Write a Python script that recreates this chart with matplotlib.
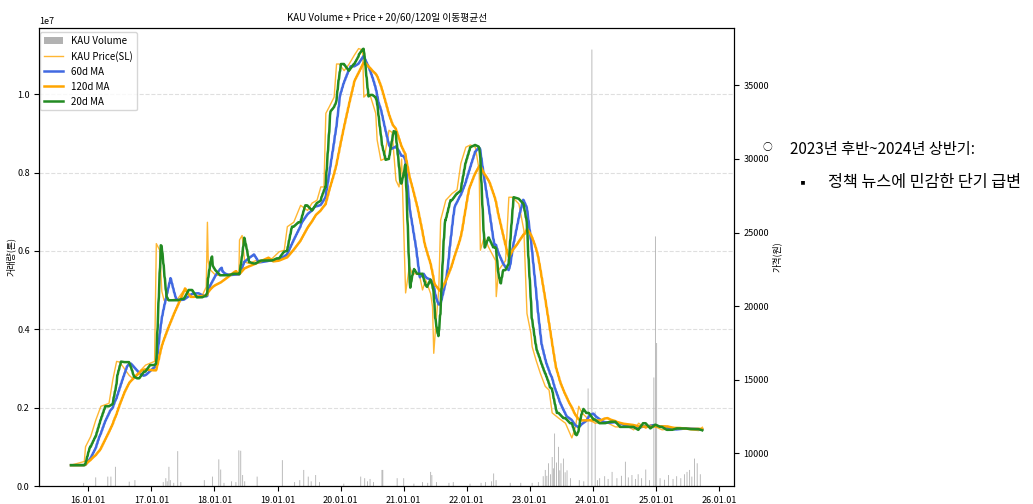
import pandas as pd
import matplotlib
matplotlib.use("Agg")
import matplotlib.pyplot as plt
import matplotlib.dates as mdates

plt.rcParams['font.family'] = ['Noto Sans CJK KR', 'DejaVu Sans']
plt.rcParams['axes.unicode_minus'] = False

# KAU closing price (원)
price_dates = [
    '2015-09-23', '2015-12-09', '2015-12-16', '2016-01-15', '2016-02-13', '2016-03-14',
    '2016-04-30', '2016-05-22', '2016-06-13', '2016-07-01', '2016-08-25', '2016-09-13',
    '2016-10-23', '2016-11-28', '2017-01-19', '2017-01-29', '2017-02-18', '2017-03-02',
    '2017-03-15', '2017-04-12', '2017-06-02', '2017-07-09', '2017-08-25', '2017-10-23',
    '2017-11-14', '2017-11-21', '2017-11-26', '2017-12-09', '2018-01-08', '2018-03-07',
    '2018-03-25', '2018-05-22', '2018-05-26', '2018-06-10', '2018-06-25', '2018-07-20',
    '2018-08-29', '2018-10-26', '2018-12-02', '2019-01-11', '2019-02-09', '2019-02-27',
    '2019-04-05', '2019-05-15', '2019-06-24', '2019-07-20', '2019-08-18', '2019-09-09',
    '2019-09-27', '2019-10-08', '2019-10-26', '2019-11-25', '2019-12-09', '2019-12-24',
    '2020-01-22', '2020-02-20', '2020-03-21', '2020-04-15', '2020-05-08', '2020-05-15',
    '2020-06-06', '2020-06-24', '2020-07-23', '2020-07-31', '2020-08-22', '2020-09-09',
    '2020-10-08', '2020-10-26', '2020-11-17', '2020-12-05', '2020-12-20', '2021-01-12',
    '2021-02-03', '2021-02-20', '2021-04-01', '2021-04-20', '2021-05-08', '2021-06-06',
    '2021-06-17', '2021-06-24', '2021-07-05', '2021-07-23', '2021-08-03', '2021-09-02',
    '2021-10-08', '2021-11-06', '2021-11-28', '2021-12-27', '2022-01-22', '2022-02-20',
    '2022-03-14', '2022-03-21', '2022-04-12', '2022-05-08', '2022-06-17', '2022-06-21',
    '2022-07-05', '2022-08-14', '2022-09-02', '2022-09-20', '2022-10-01', '2022-10-30',
    '2022-11-28', '2022-12-16', '2023-01-08', '2023-01-15', '2023-02-06', '2023-03-03',
    '2023-04-01', '2023-04-23', '2023-05-11', '2023-06-17', '2023-07-27', '2023-09-02',
    '2023-09-23', '2023-10-12', '2023-10-30', '2023-12-09', '2024-01-15', '2024-03-14',
    '2024-05-11', '2024-07-27', '2024-08-25', '2024-09-23', '2024-11-03', '2024-12-02',
    '2024-12-31', '2025-02-06', '2025-04-05', '2025-06-21', '2025-09-05', '2025-09-27',
]
price_values = [
    9200, 9450, 10450, 11150, 12250, 13200,
    13400, 15000, 16250, 16200, 15300, 15100,
    15550, 16000, 16250, 24250, 23800, 21000,
    20400, 20400, 20500, 21100, 20600, 20750,
    21300, 25700, 23000, 22450, 22100, 22100,
    22200, 22100, 24500, 24800, 23000, 22900,
    23100, 23100, 23250, 23700, 23800, 25400,
    25700, 26850, 26500, 27000, 27200, 28100,
    28100, 33100, 33500, 34200, 36450, 36450,
    36000, 36450, 37050, 37500, 37400, 34200,
    34450, 34200, 33100, 31300, 29900, 30000,
    31950, 31800, 28550, 28100, 30000, 20900,
    22700, 22200, 22200, 21100, 21800, 20850,
    19950, 16800, 18600, 21100, 25850, 27200,
    27650, 27900, 29700, 30800, 30950, 30800,
    29250, 23800, 24700, 24000, 23100, 20650,
    22450, 23100, 27400, 27400, 27300, 26950,
    25150, 19500, 18150, 17250, 16350, 15450,
    14550, 14300, 12750, 12400, 12050, 11050,
    11800, 13200, 12750, 12300, 12050, 12150,
    11800, 11800, 11600, 12050, 11700, 11950,
    11800, 11600, 11700, 11650, 11550, 11780,
]

# KAU traded volume (톤)
vol_dates = [
    '2015-12-05', '2016-02-13', '2016-04-23', '2016-05-11', '2016-06-06', '2016-08-25',
    '2016-09-27', '2017-03-10', '2017-03-25', '2017-04-02', '2017-04-12', '2017-04-20',
    '2017-05-10', '2017-06-02', '2017-06-20', '2017-11-03', '2017-12-20', '2018-01-26',
    '2018-02-06', '2018-02-25', '2018-04-10', '2018-05-05', '2018-05-22', '2018-06-02',
    '2018-06-13', '2018-06-25', '2018-09-05', '2019-01-29', '2019-04-10', '2019-05-10',
    '2019-06-02', '2019-06-28', '2019-07-15', '2019-08-10', '2019-09-01', '2020-01-20',
    '2020-04-27', '2020-05-20', '2020-06-05', '2020-06-20', '2020-07-10', '2020-08-28',
    '2020-09-02', '2020-11-24', '2021-01-01', '2021-03-01', '2021-04-20', '2021-05-20',
    '2021-06-06', '2021-06-13', '2021-07-10', '2021-09-20', '2021-10-15', '2022-01-20',
    '2022-03-25', '2022-04-20', '2022-05-25', '2022-06-06', '2022-06-20', '2022-09-10',
    '2022-11-10', '2023-01-15', '2023-02-20', '2023-03-20', '2023-04-01', '2023-04-10',
    '2023-04-20', '2023-05-01', '2023-05-11', '2023-05-18', '2023-05-25', '2023-06-05',
    '2023-06-17', '2023-06-24', '2023-07-01', '2023-07-15', '2023-07-25', '2023-08-05',
    '2023-08-25', '2023-10-15', '2023-11-10', '2023-12-05', '2023-12-27', '2024-01-15',
    '2024-01-28', '2024-02-10', '2024-03-10', '2024-03-30', '2024-04-22', '2024-05-20',
    '2024-06-15', '2024-07-08', '2024-07-25', '2024-08-15', '2024-09-05', '2024-09-20',
    '2024-10-10', '2024-11-03', '2024-11-25', '2024-12-20', '2024-12-29', '2025-01-05',
    '2025-01-25', '2025-02-20', '2025-03-15', '2025-04-10', '2025-05-01', '2025-05-25',
    '2025-06-15', '2025-06-30', '2025-07-15', '2025-07-28', '2025-08-12', '2025-08-28',
    '2025-09-15',
]
vol_values = [
    0.8e5, 2.2e5, 2.4e5, 2.4e5, 4.9e5, 1.1e5,
    1.5e5, 1.0e5, 2.0e5, 1.2e5, 4.9e5, 1.5e5,
    0.8e5, 8.9e5, 1.0e5, 1.5e5, 2.4e5, 6.8e5,
    4.2e5, 0.8e5, 1.2e5, 1.0e5, 9.1e5, 9.0e5,
    2.8e5, 1.2e5, 2.4e5, 6.6e5, 1.0e5, 1.5e5,
    4.1e5, 2.4e5, 1.2e5, 2.8e5, 1.0e5, 0.6e5,
    2.4e5, 2.0e5, 1.2e5, 1.8e5, 1.0e5, 4.1e5,
    4.1e5, 2.0e5, 2.0e5, 0.6e5, 1.0e5, 0.8e5,
    3.6e5, 2.8e5, 1.0e5, 0.8e5, 1.0e5, 0.6e5,
    0.8e5, 1.0e5, 1.2e5, 3.2e5, 1.5e5, 0.8e5,
    0.8e5, 0.8e5, 1.0e5, 2.5e5, 4.1e5, 2.6e5,
    5.8e5, 3.0e5, 7.4e5, 4.5e5, 13.4e5, 6.0e5,
    10.0e5, 4.0e5, 5.8e5, 7.0e5, 3.5e5, 4.0e5,
    2.0e5, 1.5e5, 1.2e5, 24.9e5, 111.4e5, 19.0e5,
    1.5e5, 2.0e5, 2.5e5, 1.8e5, 3.6e5, 2.0e5,
    2.6e5, 6.2e5, 2.2e5, 2.8e5, 1.8e5, 3.0e5,
    2.0e5, 4.2e5, 1.5e5, 27.7e5, 63.7e5, 36.5e5,
    2.0e5, 1.6e5, 2.8e5, 1.8e5, 2.5e5, 2.0e5,
    3.0e5, 3.6e5, 4.1e5, 2.4e5, 7.0e5, 5.8e5,
    3.0e5,
]

price = pd.Series(price_values, index=pd.to_datetime(price_dates))
# hold last traded price on each business day for the moving averages
daily = price.resample('D').ffill()
daily = daily[daily.index.dayofweek < 5]
ma20 = daily.rolling(20, min_periods=1).mean()
ma60 = daily.rolling(60, min_periods=1).mean()
ma120 = daily.rolling(120, min_periods=1).mean()

fig = plt.figure(figsize=(10.33, 5.04), dpi=100)
ax = fig.add_axes([0.0382, 0.0357, 0.6723, 0.9093])
ax2 = ax.twinx()

# thin bars: turn off snapping so sub-pixel bars don't vanish
ax.bar(pd.to_datetime(vol_dates), vol_values, width=5, color='gray', alpha=0.6,
       edgecolor='none', snap=False, label='KAU Volume')
ax2.plot(price.index, price.values, color='orange', alpha=0.8, lw=1.0, label='KAU Price(SL)')
ax2.plot(ma60.index, ma60.values, color='royalblue', lw=1.8, label='60d MA')
ax2.plot(ma120.index, ma120.values, color='orange', lw=1.8, label='120d MA')
ax2.plot(ma20.index, ma20.values, color='forestgreen', lw=1.8, label='20d MA')

ax.set_title('KAU Volume + Price + 20/60/120일 이동평균선', fontsize=7, pad=5)
ax.set_ylabel('거래량(톤)', fontsize=6.5, labelpad=1)
ax2.set_ylabel('가격(원)', fontsize=6.5, labelpad=2)
ax.grid(axis='y', linestyle='--', alpha=0.4)
ax.tick_params(labelsize=6.5)
ax2.tick_params(labelsize=6.5)
ax.yaxis.get_offset_text().set_fontsize(6.5)
ax.xaxis.set_major_locator(mdates.YearLocator())
ax.xaxis.set_major_formatter(mdates.DateFormatter('%y.%m.%d'))

h1, l1 = ax.get_legend_handles_labels()
h2, l2 = ax2.get_legend_handles_labels()
ax.legend(h1 + h2, l1 + l2, loc='upper left', bbox_to_anchor=(0.001, 0.99),
          borderaxespad=0, fontsize=7)

fig.text(767 / 1033, 1 - 147 / 504, '○', fontsize=7, va='center', ha='center')
fig.text(790 / 1033, 1 - 149 / 504, '2023년 후반~2024년 상반기:', fontsize=11, va='center')
fig.text(803 / 1033, 1 - 183 / 504, '▪', fontsize=10, va='center', ha='center')
fig.text(828 / 1033, 1 - 183 / 504, '정책 뉴스에 민감한 단기 급변', fontsize=11.7, va='center')

fig.savefig('out.png', dpi=100)
